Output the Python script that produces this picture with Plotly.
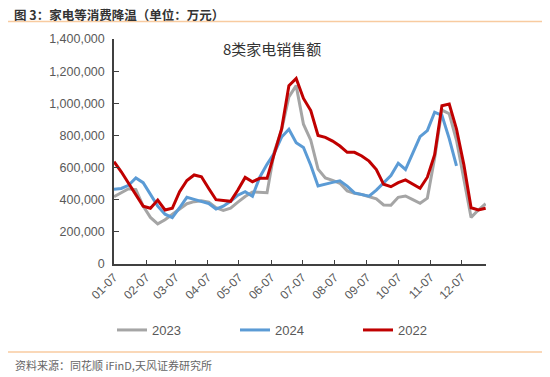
import pandas as pd
import plotly.graph_objects as go

# Weekly observation dates (month-day axis, shared by all years)
week_dates = pd.date_range("2001-01-07", periods=52, freq="7D")

tick_labels_fmt = "%m-%d"

sales_2023 = [419, 445, 468, 462, 360, 290, 250, 275, 310, 345, 375, 388, 394, 385, 350, 333,
              347, 385, 420, 448, 444, 444, 700, 834, 1040, 1110, 870, 770, 590, 535, 520, 502,
              455, 440, 432, 420, 405, 367, 365, 415, 423, 400, 378, 410, 660, 958, 935, 770,
              540, 290, 336, 375]
sales_2024 = [465, 470, 490, 535, 506, 430, 360, 310, 288, 350, 415, 402, 390, 376, 342, 360,
              390, 428, 450, 422, 540, 620, 690, 790, 838, 755, 725, 615, 485, 498, 508, 518,
              485, 442, 430, 422, 460, 505, 550, 627, 588, 690, 792, 830, 945, 925, 780, 610]
sales_2022 = [637, 574, 502, 429, 360, 347, 398, 336, 347, 450, 520, 554, 543, 470, 400, 395,
              390, 460, 539, 512, 533, 533, 680, 840, 1110, 1155, 1030, 955, 800, 788, 765, 734,
              695, 695, 672, 640, 588, 496, 481, 506, 523, 498, 471, 540, 680, 985, 995, 840,
              620, 350, 336, 347]

series = [
    ("2023", sales_2023, "#A5A5A5"),
    ("2024", sales_2024, "#5B9BD5"),
    ("2022", sales_2022, "#C00000"),
]

fig = go.Figure()
for name, vals, color in series:
    fig.add_trace(go.Scatter(
        x=week_dates[:len(vals)],
        y=[v * 1000 for v in vals],
        mode="lines",
        name=name,
        line=dict(color=color, width=3),
    ))

OFF = 8  # page body margin
L, R, T, B = 114 - OFF, 486 - OFF, 39 - OFF, 264 - OFF
W, H = 550 - OFF, 377 - OFF


def px(x):
    return (x - OFF - L) / (R - L)


def py(y):
    return (B - (y - OFF)) / (B - T)


fig.update_layout(
    width=W, height=H,
    margin=dict(l=L, r=W - R, t=T, b=H - B, autoexpand=False),
    paper_bgcolor="white", plot_bgcolor="white",
    font=dict(family="Liberation Sans, Arial, sans-serif", color="#595959", size=12),
    showlegend=True,
    legend=dict(
        orientation="h", x=px(112), y=py(330), xanchor="left", yanchor="middle",
        entrywidth=78, entrywidthmode="pixels",
        font=dict(size=13, color="#595959"),
        bgcolor="rgba(0,0,0,0)",
    ),
    xaxis=dict(
        type="date",
        range=["2001-01-07", "2001-12-30 08:00"],
        tick0="2001-01-07", dtick="M1", tickformat=tick_labels_fmt,
        tickangle=-45, ticks="inside", ticklen=4, tickcolor="#404040",
        showline=True, linecolor="#404040", linewidth=1.5,
        showgrid=False, zeroline=False,
        tickfont=dict(size=12, color="#595959"),
        automargin=False,
    ),
    yaxis=dict(
        range=[0, 1400000], dtick=200000, tickformat=",",
        ticks="inside", ticklen=5, tickcolor="#404040",
        showline=True, linecolor="#404040", linewidth=1.5,
        showgrid=False, zeroline=False,
        tickfont=dict(size=12.5, color="#595959"),
        ticklabelstandoff=5,
        automargin=False,
    ),
    shapes=[
        dict(type="line", xref="paper", yref="paper", x0=px(7), x1=px(545),
             y0=py(21.5), y1=py(21.5), line=dict(color="#F8CBA0", width=1.5)),
        dict(type="line", xref="paper", yref="paper", x0=px(7), x1=px(545),
             y0=py(352), y1=py(352), line=dict(color="#F8CBA0", width=1.5)),
    ],
    annotations=[
        dict(text="<b>图 3：家电等消费降温（单位：万元）</b>", xref="paper", yref="paper",
             x=px(13), y=py(15), xanchor="left", yanchor="middle", showarrow=False,
             borderpad=0,
             font=dict(family="Noto Sans CJK SC", size=12.5, color="#333333")),
        dict(text="8类家电销售额", xref="paper", yref="paper",
             x=px(272), y=py(48), xanchor="center", yanchor="middle", showarrow=False,
             font=dict(family="Noto Sans CJK SC", size=15, color="#333333")),
        dict(text="资料来源：同花顺 iFinD,天风证券研究所", xref="paper", yref="paper",
             x=px(13), y=py(365), xanchor="left", yanchor="middle", showarrow=False,
             font=dict(family="Noto Sans CJK SC", size=11, color="#666666")),
    ],
)

fig.write_html("out.html")
